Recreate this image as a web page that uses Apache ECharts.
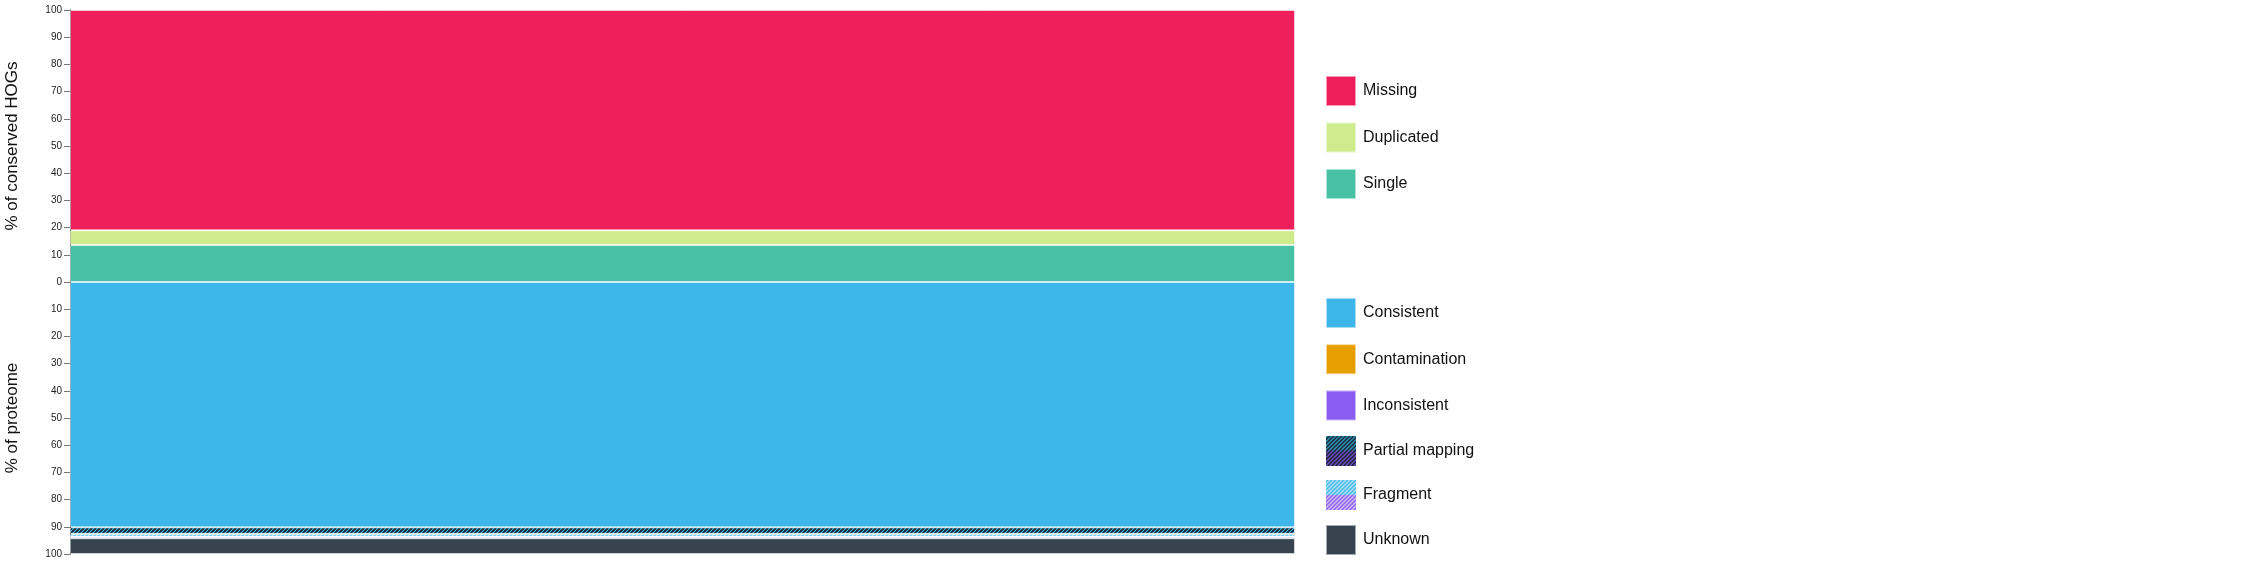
<!DOCTYPE html>
<html>
<head>
<meta charset="utf-8">
<script src="https://cdn.jsdelivr.net/npm/echarts@6/dist/echarts.min.js"></script>
<style>
html,body{margin:0;padding:0;background:#fff;}
#chart{width:2241px;height:563px;}
</style>
</head>
<body>
<div id="chart"></div>
<script>
// ---- data ----
const categories = ['Proteome'];
const yTicks = [0, 10, 20, 30, 40, 50, 60, 70, 80, 90, 100];
// conserved HOGs (%)
const singleVals = [13.6];
const duplicatedVals = [5.4];
const missingVals = [81.0];
// proteome (%)
const consistentVals = [90.2];
const consPartialVals = [2.4];
const consFragmentVals = [1.0];
const contaminationVals = [0];
const inconsistentVals = [0.6];
const incPartialVals = [0];
const incFragmentVals = [0];
const unknownVals = [5.8];

// ---- styles ----
const C = {
  missing: '#EE1F5A',
  duplicated: '#CFEC8C',
  single: '#47C0A3',
  consistent: '#3DB7E9',
  contamination: '#E69F00',
  inconsistent: '#8B5CF0',
  unknown: '#37444F',
  dark: '#14202b',
  light: 'rgba(255,255,255,0.65)'
};

function hatch(bg, fg, lw) {
  const s = 4;
  const c = document.createElement('canvas');
  c.width = s; c.height = s;
  const g = c.getContext('2d');
  g.fillStyle = bg; g.fillRect(0, 0, s, s);
  g.strokeStyle = fg; g.lineWidth = lw;
  g.beginPath();
  g.moveTo(0, s); g.lineTo(s, 0);
  g.moveTo(-s / 2, s / 2); g.lineTo(s / 2, -s / 2);
  g.moveTo(s / 2, s * 1.5); g.lineTo(s * 1.5, s / 2);
  g.stroke();
  return c;
}
const patConsPartial = hatch(C.consistent, C.dark, 1.6);
const patIncPartial = hatch(C.inconsistent, C.dark, 1.6);
const patConsFragment = hatch(C.consistent, C.light, 1.4);
const patIncFragment = hatch(C.inconsistent, C.light, 1.4);

function splitIcon(patTop, patBottom) {
  const c = document.createElement('canvas');
  c.width = 30; c.height = 30;
  const g = c.getContext('2d');
  g.fillStyle = g.createPattern(patTop, 'repeat');
  g.fillRect(0, 0, 30, 15);
  g.fillStyle = g.createPattern(patBottom, 'repeat');
  g.fillRect(0, 15, 30, 15);
  return 'image://' + c.toDataURL();
}
const iconPartial = splitIcon(patConsPartial, patIncPartial);
const iconFragment = splitIcon(patConsFragment, patIncFragment);

const border = {borderColor: 'rgba(255,255,255,0.55)', borderWidth: 1};

function bar(name, grid, stack, data, color) {
  return {
    name: name, type: 'bar', xAxisIndex: grid, yAxisIndex: grid, stack: stack,
    data: data, barWidth: '100%', barCategoryGap: 0,
    itemStyle: Object.assign({color: color}, border),
    emphasis: {disabled: true}
  };
}

const axisCommon = {
  type: 'value', min: 0, max: 100, interval: 10,
  axisLine: {show: true, lineStyle: {color: '#000', width: 1}},
  axisTick: {show: true, length: 6, lineStyle: {color: '#777', width: 1}},
  axisLabel: {fontSize: 10, color: '#222', margin: 8, fontFamily: 'Liberation Sans'},
  splitLine: {show: false},
  nameLocation: 'middle', nameGap: 49,
  nameTextStyle: {fontSize: 17, color: '#111', fontFamily: 'Liberation Sans'}
};

const legendCommon = {
  orient: 'vertical', left: 1325, itemWidth: 30, itemHeight: 30, padding: 0,
  textStyle: {fontSize: 16, color: '#111', padding: [0, 0, 0, 2]},
  selectedMode: false
};

const chart = echarts.init(document.getElementById('chart'), null, {renderer: 'canvas'});
chart.setOption({
  animation: false,
  textStyle: {fontFamily: 'Liberation Sans'},
  grid: [
    {left: 70, top: 10, width: 1225, height: 272, outerBoundsMode: 'none', containLabel: false},
    {left: 70, top: 282, width: 1225, height: 272, outerBoundsMode: 'none', containLabel: false}
  ],
  xAxis: [
    {gridIndex: 0, type: 'category', data: categories, show: false},
    {gridIndex: 1, type: 'category', data: categories, show: false}
  ],
  yAxis: [
    Object.assign({}, axisCommon, {gridIndex: 0, name: '% of conserved HOGs'}),
    Object.assign({}, axisCommon, {gridIndex: 1, inverse: true, name: '% of proteome',
      axisLabel: Object.assign({}, axisCommon.axisLabel, {showMinLabel: false})})
  ],
  legend: [
    Object.assign({}, legendCommon, {
      top: 75, itemGap: 14.5, height: 200,
      data: [
        {name: 'Missing', icon: 'rect'},
        {name: 'Duplicated', icon: 'rect'},
        {name: 'Single', icon: 'rect'}
      ]
    }),
    Object.assign({}, legendCommon, {
      top: 297, itemGap: 14.2, height: 400,
      data: [
        {name: 'Consistent', icon: 'rect'},
        {name: 'Contamination', icon: 'rect'},
        {name: 'Inconsistent', icon: 'rect'},
        {name: 'Partial mapping', icon: iconPartial},
        {name: 'Fragment', icon: iconFragment},
        {name: 'Unknown', icon: 'rect'}
      ]
    })
  ],
  series: [
    bar('Single', 0, 'hog', singleVals, C.single),
    bar('Duplicated', 0, 'hog', duplicatedVals, C.duplicated),
    bar('Missing', 0, 'hog', missingVals, C.missing),
    bar('Consistent', 1, 'prot', consistentVals, C.consistent),
    bar('Partial mapping', 1, 'prot', consPartialVals, {image: patConsPartial, repeat: 'repeat'}),
    bar('Fragment', 1, 'prot', consFragmentVals, {image: patConsFragment, repeat: 'repeat'}),
    bar('Contamination', 1, 'prot', contaminationVals, C.contamination),
    bar('Inconsistent', 1, 'prot', inconsistentVals, C.inconsistent),
    bar('Partial mapping', 1, 'prot', incPartialVals, {image: patIncPartial, repeat: 'repeat'}),
    bar('Fragment', 1, 'prot', incFragmentVals, {image: patIncFragment, repeat: 'repeat'}),
    bar('Unknown', 1, 'prot', unknownVals, C.unknown)
  ]
});
</script>
</body>
</html>
